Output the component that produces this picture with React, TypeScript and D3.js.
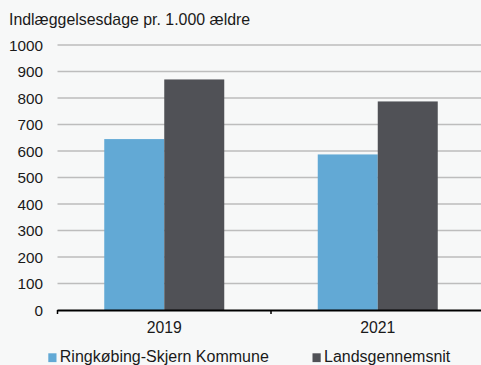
import React from "react";
import * as d3 from "d3";

const categories = ["2019", "2021"];
const seriesNames = ["Ringkøbing-Skjern Kommune", "Landsgennemsnit"];
const ringkobing = [645, 587];
const lands = [870, 787];
const yTicks = [0, 100, 200, 300, 400, 500, 600, 700, 800, 900, 1000];
const title = "Indlæggelsesdage pr. 1.000 ældre";
const colors = ["#62a9d5", "#505156"];

export default function App() {
  const W = 481, H = 365;
  const left = 57.5, right = 484.5, top = 45, bottom = 310;
  const x = d3.scaleBand<string>().domain(categories).range([left, right]).paddingInner(0).paddingOuter(0);
  const y = d3.scaleLinear().domain([0, 1000]).range([bottom, top]);
  const barW = 60;
  const series = [ringkobing, lands];
  const font = "Liberation Sans, Arial, sans-serif";
  return (
    <svg width={W} height={H} style={{ position: "fixed", left: 0, top: 0, background: "#f7f8f8" }} fontFamily={font}>
      <rect x={0} y={0} width={W} height={H} fill="#f7f8f8" />
      <text x={9} y={25} fontSize={15.9} fill="#1a1a1a">{title}</text>
      {yTicks.map((t) => (
        <g key={t}>
          {t > 0 && <line x1={left} x2={W} y1={y(t)} y2={y(t)} stroke="#bdbdbd" strokeWidth={1.5} />}
          <text x={43} y={y(t) + 5.5} fontSize={15.3} textAnchor="end" fill="#1a1a1a">{t}</text>
        </g>
      ))}
      {categories.map((c, i) => {
        const cx = x(c)! + x.bandwidth() / 2;
        return (
          <g key={c}>
            {series.map((s, j) => (
              <rect key={j} x={cx - barW + j * barW} y={y(s[i])} width={barW} height={bottom - y(s[i])} fill={colors[j]} />
            ))}
            <text x={cx} y={333} fontSize={15.8} textAnchor="middle" fill="#1a1a1a">{c}</text>
          </g>
        );
      })}
      <line x1={left} x2={W} y1={bottom + 0.5} y2={bottom + 0.5} stroke="#000" strokeWidth={2} />
      {[left, x(categories[1])!].map((tx, i) => (
        <line key={i} x1={tx} x2={tx} y1={bottom} y2={bottom + 4} stroke="#000" strokeWidth={1.5} />
      ))}
      {seriesNames.map((n, i) => {
        const lx = i === 0 ? 48.3 : 312.5;
        return (
          <g key={n}>
            <rect x={lx} y={353.3} width={8.2} height={8.8} fill={colors[i]} />
            <text x={lx + 11.5} y={362} fontSize={16} fill="#1a1a1a">{n}</text>
          </g>
        );
      })}
    </svg>
  );
}
